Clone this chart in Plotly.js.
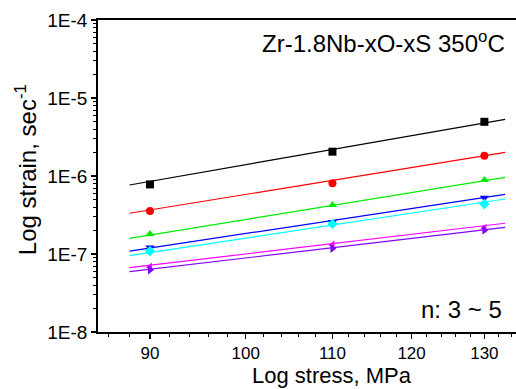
<!DOCTYPE html>
<html><head><meta charset="utf-8">
<script src="https://cdn.plot.ly/plotly-3.0.1.min.js"></script>
<style>html,body{margin:0;padding:0;background:#fff}#chart{width:516px;height:389px}</style>
</head><body><div id="chart"></div>
<script>
var stress = [90, 110, 130];
var fitX = [88, 133];
var seriesNames = ['s1','s2','s3','s4','s5','s6','s7'];
var colors = ['#000000','#FF0000','#00EE00','#0000FF','#00FFFF','#FF00FF','#8000FF'];
var symbols = ['square','circle','triangle-up','triangle-down','diamond','triangle-left','triangle-right'];
var strainData = [
  [7.8e-7, 2.05e-6, 4.95e-6],
  [3.56e-7, 8.1e-7, 1.82e-6],
  [1.8e-7, 4.25e-7, 8.9e-7],
  [1.21e-7, 2.55e-7, 5.27e-7],
  [1.09e-7, 2.43e-7, 4.38e-7],
  [6.75e-8, 1.3e-7, 2.13e-7],
  [6.24e-8, 1.18e-7, 2.03e-7]
];
var fitY = [
  [7.67e-7, 5.33e-6],
  [3.33e-7, 2.01e-6],
  [1.59e-7, 9.61e-7],
  [1.09e-7, 5.82e-7],
  [9.51e-8, 5.07e-7],
  [6.67e-8, 2.48e-7],
  [5.93e-8, 2.20e-7]
];
var yTickVals = [1e-8, 1e-7, 1e-6, 1e-5, 1e-4];
var yTickText = ['1E-8','1E-7','1E-6','1E-5','1E-4'];
var xTickVals = [90, 100, 110, 120, 130];
var xTickText = ['90','100','110','120','130'];

var yMinor = [];
for (var e = -8; e < -4; e++) for (var m = 2; m <= 9; m++) yMinor.push(m * Math.pow(10, e));
var xMinor = [];
for (var v = 86; v <= 134; v += 2) if (v % 10 !== 0) xMinor.push(v);

var traces = [];
for (var i = 0; i < seriesNames.length; i++) {
  traces.push({x: fitX, y: fitY[i], mode: 'lines', line: {color: colors[i], width: 1.2}, hoverinfo: 'skip', showlegend: false});
}
for (var i = 0; i < seriesNames.length; i++) {
  traces.push({x: stress, y: strainData[i], mode: 'markers', name: seriesNames[i],
    marker: {color: colors[i], symbol: symbols[i], size: 8, line: {width: 0}}, showlegend: false});
}
var font = '"Liberation Sans", Arial, sans-serif';
var layout = {
  width: 516, height: 389,
  margin: {l: 98, r: 0, t: 20, b: 57},
  paper_bgcolor: '#fff', plot_bgcolor: '#fff',
  font: {family: font, color: '#000', size: 18},
  showlegend: false,
  xaxis: {
    type: 'log', range: [Math.log10(85), Math.log10(134.6)],
    tickmode: 'array', tickvals: xTickVals, ticktext: xTickText,
    ticks: 'outside', ticklen: 5, tickwidth: 1.2, tickcolor: '#000',
    showline: true, linewidth: 1.8, linecolor: '#000', mirror: true,
    showgrid: false, zeroline: false,
    tickfont: {family: font, size: 17},
    minor: {tickmode: 'array', tickvals: xMinor, ticks: 'outside', ticklen: 3, tickwidth: 1, tickcolor: '#000', showgrid: false}
  },
  yaxis: {
    type: 'log', range: [-8, -4],
    tickmode: 'array', tickvals: yTickVals, ticktext: yTickText,
    ticks: 'outside', ticklen: 5, tickwidth: 1.2, tickcolor: '#000',
    showline: true, linewidth: 1.8, linecolor: '#000', mirror: false,
    showgrid: false, zeroline: false,
    tickfont: {family: font, size: 19},
    minor: {tickmode: 'array', tickvals: yMinor, ticks: 'outside', ticklen: 3, tickwidth: 1, tickcolor: '#000', showgrid: false}
  },
  annotations: [
    {xref: 'paper', yref: 'paper', x: 0.559, y: -0.14, xanchor: 'center', yanchor: 'middle',
     text: 'Log stress, MPa', showarrow: false, font: {family: font, size: 22}},
    {xref: 'paper', yref: 'paper', x: -0.172, y: 0.519, xanchor: 'center', yanchor: 'middle', textangle: -90,
     text: 'Log strain, sec<sup>-1</sup>', showarrow: false, font: {family: font, size: 24}},
    {xref: 'paper', yref: 'paper', x: 0.9785, y: 0.929, xanchor: 'right', yanchor: 'middle',
     text: 'Zr-1.8Nb-xO-xS 350<sup>o</sup>C', showarrow: false, font: {family: font, size: 24}},
    {xref: 'paper', yref: 'paper', x: 0.971, y: 0.071, xanchor: 'right', yanchor: 'middle',
     text: 'n: 3 ~ 5', showarrow: false, font: {family: font, size: 24}}
  ]
};
Plotly.newPlot('chart', traces, layout, {displayModeBar: false, staticPlot: true});
</script></body></html>
